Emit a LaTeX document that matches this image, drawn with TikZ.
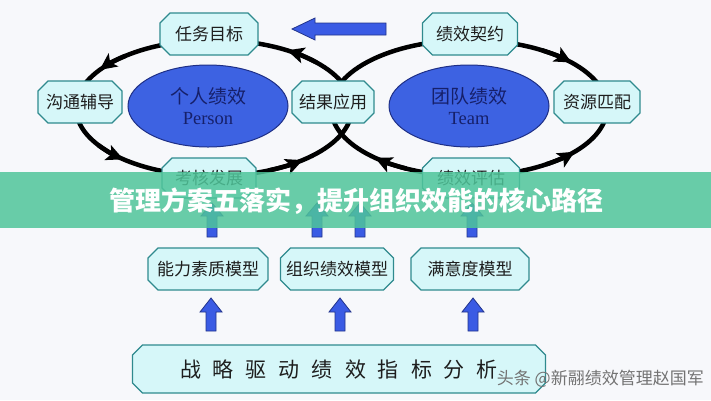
\documentclass[tikz,border=0pt]{standalone}
\usepackage{fontspec}
\newfontfamily\cjk{Noto Sans CJK SC}
\newfontfamily\serifen{Liberation Serif}
\usetikzlibrary{shapes.geometric,arrows.meta}

\definecolor{bgc}{HTML}{F7F8FB}
\definecolor{boxfill}{HTML}{D6F7F9}
\definecolor{boxline}{HTML}{2F8A8E}
\definecolor{elfill}{HTML}{3D62E2}
\definecolor{elline}{HTML}{1E2F86}
\definecolor{eltext}{HTML}{16206A}
\definecolor{arrfill}{HTML}{3A5BE4}
\definecolor{arrline}{HTML}{22348C}
\definecolor{bandc}{HTML}{4FC59A}
\definecolor{txt}{HTML}{1E1E1E}

\tikzset{
  octline/.style={draw=boxline, line width=1.3pt, fill=boxfill},
  octtext/.style={inner sep=0pt, text=txt, font=\cjk\fontsize{17}{17}\selectfont},
  loopline/.style={line width=4.5pt, black},
  looparr/.style={line width=4.5pt, black, -{Stealth[length=17pt,width=16pt,inset=4pt]}},
  ellp/.style={ellipse, draw=elline, line width=1pt, fill=elfill, minimum width=160pt, minimum height=82pt, inner sep=0pt},
  elcn/.style={inner sep=0pt, text=eltext, font=\cjk\fontsize{19}{19}\selectfont},
  elen/.style={inner sep=0pt, text=eltext, font=\serifen\fontsize{18.5}{18.5}\selectfont},
  blockarr/.style={fill=arrfill, draw=arrline, line width=0.8pt, line join=miter},
  bandtxt/.style={inner sep=0pt, text=white, font=\cjk\bfseries\fontsize{26}{26}\selectfont},
  wmtxt/.style={inner sep=0pt, text=black!55, font=\cjk\fontsize{17}{17}\selectfont}
}

% name, cx, cy, w, h, text
\newcommand\octbox[6]{%
  \draw[octline] (#2-#4/2+10,#3-#5/2) -- (#2+#4/2-10,#3-#5/2) -- (#2+#4/2,#3-#5/2+10)
    -- (#2+#4/2,#3+#5/2-10) -- (#2+#4/2-10,#3+#5/2) -- (#2-#4/2+10,#3+#5/2)
    -- (#2-#4/2,#3+#5/2-10) -- (#2-#4/2,#3-#5/2+10) -- cycle;
  \node[octtext] (#1) at (#2,#3) {#6};}
% x, ytip, yshoulder, ybottom
\newcommand\blkup[4]{%
  \draw[blockarr] (#1-5,#4) -- (#1-5,#3) -- (#1-11,#3) -- (#1,#2) -- (#1+11,#3)
    -- (#1+5,#3) -- (#1+5,#4) -- cycle;}
% center, start angle, end angle
\newcommand\lparr[3]{%
  \draw[looparr] ([shift={#1}]#2:138 and 68) arc[start angle=#2,end angle=#3,x radius=138,y radius=68];}

\begin{document}
\begin{tikzpicture}[x=1pt,y=-1pt]
\useasboundingbox (0,0) rectangle (711,400);
\fill[bgc] (0,0) rectangle (711,400);

% loops
\draw[loopline] (214,108) ellipse [x radius=138, y radius=68];
\draw[loopline] (469,108) ellipse [x radius=138, y radius=68];
\lparr{(214,108)}{230}{214}
\lparr{(214,108)}{147}{131}
\lparr{(214,108)}{66}{50}
\lparr{(214,108)}{318}{302}
\lparr{(469,108)}{302}{318}
\lparr{(469,108)}{56}{40}
\lparr{(469,108)}{117}{133}

% ellipses
\node[ellp] (pe) at (208,106) {};
\node[elcn] (pecn) at (208,96) {个人绩效};
\node[elen] (peen) at (208,119) {Person};
\node[ellp] (te) at (469,106) {};
\node[elcn] (tecn) at (469,96) {团队绩效};
\node[elen] (teen) at (469,119) {Team};

% cycle boxes
\octbox{renwu}{209}{34}{98}{42}{任务目标}
\octbox{goutong}{80}{102}{84}{42}{沟通辅导}
\octbox{jieguo}{333}{102}{82}{42}{结果应用}
\octbox{kaohe}{209}{178}{94}{40}{考核发展}
\octbox{qiyue}{470}{34}{95}{42}{绩效契约}
\octbox{ziyuan}{597}{102}{86}{42}{资源匹配}
\octbox{pinggu}{471}{178}{97}{40}{绩效评估}

% top block arrow
\draw[blockarr] (386,23) -- (315,23) -- (315,18) -- (292,29) -- (315,40) -- (315,35) -- (386,35) -- cycle;

% up arrows under the band
\blkup{212}{203}{216}{237}
\blkup{317}{203}{216}{237}
\blkup{360}{203}{216}{237}
\blkup{472}{203}{216}{237}

% band
\fill[bandc, opacity=0.85] (0,172) rectangle (711,228);
\node[bandtxt] (title) at (356,201) {管理方案五落实，提升组织效能的核心路径};

% models
\octbox{m1}{208}{269}{120}{42}{能力素质模型}
\octbox{m2}{337}{269}{113}{42}{组织绩效模型}
\octbox{m3}{470}{269}{118}{42}{满意度模型}

% lower arrows
\blkup{211}{298}{312}{331}
\blkup{340}{298}{312}{331}
\blkup{473}{298}{312}{331}

% base box
\octbox{base}{339}{369}{413}{48}{\fontsize{21}{21}\selectfont 战\hspace{12pt}略\hspace{12pt}驱\hspace{12pt}动\hspace{12pt}绩\hspace{12pt}效\hspace{12pt}指\hspace{12pt}标\hspace{12pt}分\hspace{12pt}析}

% watermark
\node[wmtxt, anchor=east] (wm) at (704,379) {头条 @新翮绩效管理赵国军};
\end{tikzpicture}
\end{document}
